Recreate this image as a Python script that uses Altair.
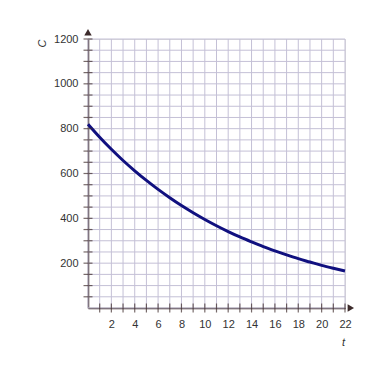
import altair as alt
import pandas as pd

# curve values
t_vals = [0, 1, 2, 3, 4, 5, 6, 7, 8, 9, 10, 11, 12, 13, 14, 15, 16, 17, 18, 19, 20, 21, 22]
c_vals = [820, 762, 708, 658, 612, 569, 529, 492, 457, 425, 395, 367, 341, 317, 295, 274, 255, 237, 220, 205, 190, 177, 165]

x_label_vals = [2, 4, 6, 8, 10, 12, 14, 16, 18, 20, 22]
y_label_vals = [200, 400, 600, 800, 1000, 1200]
x_tick_vals = list(range(1, 23))
y_tick_vals = list(range(50, 1201, 50))
x_grid_vals = list(range(0, 23))
y_grid_vals = list(range(0, 1201, 50))

AXIS = "#3d2b2b"
GRID = "#c4c0d6"
LINE = "#10107f"
TXT = "#333333"

curve = pd.DataFrame({"t": t_vals, "C": c_vals})
xs = alt.Scale(domain=[0, 22], nice=False, zero=False)
ys = alt.Scale(domain=[0, 1200], nice=False, zero=False)

xaxis = alt.Axis(values=x_label_vals, format="d", labelOverlap=False, labelBound=False,
                 labelFlush=False,
                 grid=False, ticks=False, domain=True,
                 domainColor=AXIS, domainWidth=1.5, labelColor=TXT, labelFontSize=11,
                 labelFont="Liberation Sans", labelPadding=10,
                 title="t", titleFontStyle="italic", titleFontWeight="normal",
                 titleFont="Liberation Sans", titleFontSize=11, titleColor=TXT,
                 titleX=255, titleY=34, titleAlign="center", titleBaseline="middle")
yaxis = alt.Axis(values=y_label_vals, format="d", labelOverlap=False, labelBound=False,
                 labelFlush=False,
                 grid=False, ticks=False, domain=True,
                 domainColor=AXIS, domainWidth=1.5, labelColor=TXT, labelFontSize=11,
                 labelFont="Liberation Sans", labelPadding=10,
                 title="C", titleFontStyle="italic", titleFontWeight="normal",
                 titleFont="Liberation Sans", titleFontSize=11, titleColor=TXT,
                 titleX=-46, titleY=4, titleAngle=270, titleAlign="center",
                 titleBaseline="middle")


def X():
    return alt.X("t:Q", scale=xs, axis=xaxis)


def Y():
    return alt.Y("C:Q", scale=ys, axis=yaxis)


vgrid = alt.Chart(pd.DataFrame({"t": x_grid_vals})).mark_rule(color=GRID, strokeWidth=1).encode(
    x=X(), y=alt.value(0), y2=alt.value(269))
hgrid = alt.Chart(pd.DataFrame({"C": y_grid_vals})).mark_rule(color=GRID, strokeWidth=1).encode(
    y=Y(), x=alt.value(0), x2=alt.value(257))

line = alt.Chart(curve).mark_line(color=LINE, strokeWidth=3, interpolate="monotone").encode(
    x=X(), y=Y())

xticks = alt.Chart(pd.DataFrame({"t": x_tick_vals, "C": [0] * len(x_tick_vals)})).mark_tick(
    orient="vertical", color=AXIS, size=9, thickness=1.2).encode(x=X(), y=Y())
yticks = alt.Chart(pd.DataFrame({"C": y_tick_vals, "t": [0] * len(y_tick_vals)})).mark_tick(
    orient="horizontal", color=AXIS, size=9, thickness=1.2).encode(x=X(), y=Y())

arrow_up = alt.Chart(pd.DataFrame({"t": [0], "C": [1230]})).mark_point(
    shape="triangle-up", filled=True, color=AXIS, size=55, opacity=1).encode(x=X(), y=Y())
arrow_right = alt.Chart(pd.DataFrame({"t": [22.5], "C": [0]})).mark_point(
    shape="triangle-right", filled=True, color=AXIS, size=55, opacity=1).encode(x=X(), y=Y())

chart = alt.layer(vgrid, hgrid, line, xticks, yticks, arrow_up, arrow_right).properties(
    width=257, height=269,
    autosize=alt.AutoSizeParams(type="none"),
    padding={"left": 88, "top": 39, "right": 39, "bottom": 76},
).configure_view(stroke=None).configure(background="white")

chart.save("out.html", embed_options={"renderer": "svg", "actions": False})
